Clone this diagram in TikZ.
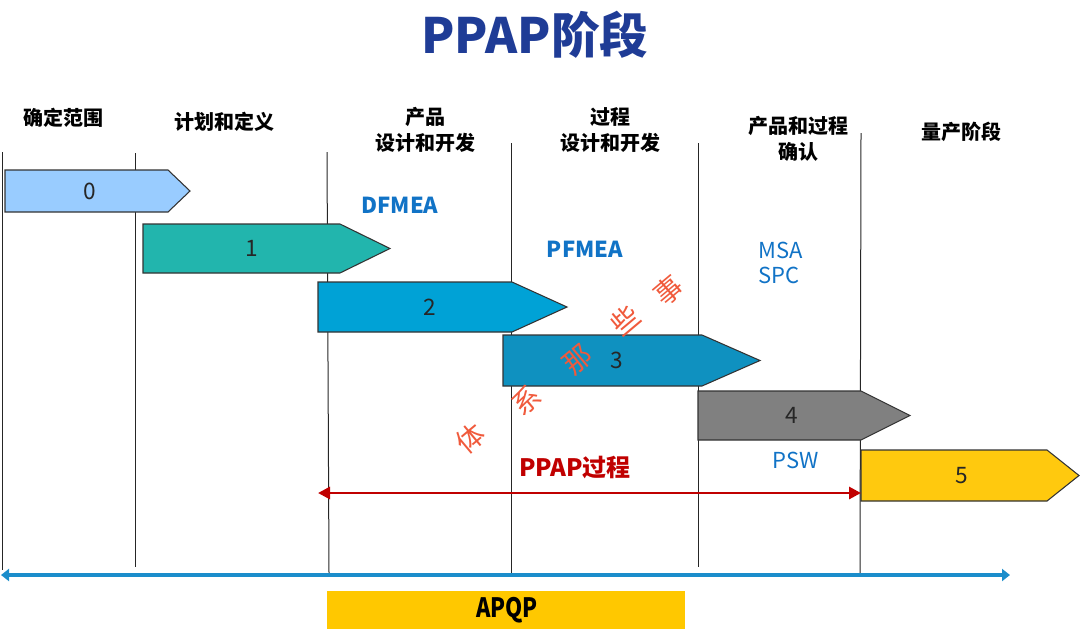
\documentclass[tikz,border=0pt]{standalone}
\usepackage{fontspec}
\setmainfont{Noto Sans CJK SC}
\usetikzlibrary{arrows.meta}
\definecolor{titleblue}{HTML}{1F3C96}
\definecolor{c0}{HTML}{99CCFF}
\definecolor{c1}{HTML}{22B5AD}
\definecolor{c2}{HTML}{00A2D6}
\definecolor{c3}{HTML}{0F91C0}
\definecolor{c4}{HTML}{808080}
\definecolor{c5}{HTML}{FFC90E}
\definecolor{txtblue}{HTML}{1173C6}
\definecolor{pred}{HTML}{C00000}
\definecolor{axisblue}{HTML}{1B8DCB}
\definecolor{apqp}{HTML}{FFC800}
\definecolor{wm}{HTML}{F05A3C}
% name, xleft, xbody, xtip, ytop, ybot, colour, label, label x
\newcommand{\phasebox}[9]{%
  \draw[phaseedge, fill=#7] (#2,#5) -- (#3,#5) -- (#4,{(#5+#6)/2}) -- (#3,#6) -- (#2,#6) -- cycle;
  \node[numlabel] (#1) at (#9,{(#5+#6)/2}) {#8};}
\begin{document}
\begin{tikzpicture}[x=0.75pt,y=-0.75pt,
  phaseedge/.style={draw=black!80, line width=0.8pt},
  numlabel/.style={font=\fontsize{17}{20}\selectfont, text=black!85},
  header/.style={font=\fontsize{15}{19}\selectfont\bfseries, align=center, text=black},
  divider/.style={draw=black!85, line width=0.75pt},
  tool/.style={font=\fontsize{16.5}{19}\selectfont, text=txtblue},
  wmark/.style={font=\fontsize{21}{24}\selectfont, text=wm, rotate=40}]
\useasboundingbox (0,0) rectangle (1080,629);
% title
\node[font=\fontsize{36.5}{42}\selectfont\bfseries, text=titleblue] (title) at (535,35) {PPAP阶段};
% dividers
\draw[divider] (2,152) -- (2,570);
\draw[divider] (135,153) -- (135,567);
\draw[divider] (327,152) -- (329,573);
\draw[divider] (511,143) -- (511,573);
\draw[divider] (698,143) -- (698,567);
\draw[divider] (861,133) -- (860,573);
% headers
\node[header] (h0) at (63,118) {确定范围};
\node[header] (h1) at (224,122) {计划和定义};
\node[header] (h2) at (425,130) {产品\\设计和开发};
\node[header] (h3) at (610,130) {过程\\设计和开发};
\node[header] (h4) at (798,139) {产品和过程\\确认};
\node[header] (h5) at (961,132) {量产阶段};
% phases
\phasebox{p0}{5}{168}{190}{170}{212}{c0}{0}{90}
\phasebox{p1}{143}{340}{390}{224}{273}{c1}{1}{252}
\phasebox{p2}{318}{512}{567}{282}{332}{c2}{2}{430}
\phasebox{p3}{503}{702}{760}{335}{386}{c3}{3}{617}
\phasebox{p4}{698}{861}{910}{391}{440}{c4}{4}{792}
\phasebox{p5}{861}{1047}{1079}{450}{501}{c5}{5}{962}
% tools
\node[tool, font=\fontsize{16.5}{19}\selectfont\bfseries] (dfmea) at (400,205) {DFMEA};
\node[tool, font=\fontsize{16.5}{19}\selectfont\bfseries] (pfmea) at (585,249) {PFMEA};
\node[tool, anchor=west] (msa) at (754,250) {MSA};
\node[tool, anchor=west] (spc) at (754,275) {SPC};
\node[tool] (psw) at (796,460) {PSW};
% PPAP process
\node[font=\fontsize{18}{20}\selectfont\bfseries, text=pred] (ppap) at (575,468) {PPAP过程};
\coordinate (ppapL) at (318,493);
\coordinate (ppapR) at (861,493);
\draw[pred, line width=2.2pt, {Triangle[length=9pt,width=9pt]}-{Triangle[length=9pt,width=9pt]}] (ppapL) -- (ppapR);
% APQP axis
\coordinate (axL) at (1,575);
\coordinate (axR) at (1010,575);
\draw[axisblue, line width=3pt, {Triangle[length=6pt,width=9pt]}-{Triangle[length=6pt,width=9pt]}] (axL) -- (axR);
\fill[apqp] (327,591) rectangle (685,629);
\node[font=\fontsize{20}{22}\selectfont\bfseries, xscale=0.82] (apqp) at (507,610) {APQP};
% watermark
\node[wmark] (w1) at (470,438) {体};
\node[wmark] (w2) at (526,400) {系};
\node[wmark] (w3) at (578,360) {那};
\node[wmark] (w4) at (625,320) {些};
\node[wmark] (w5) at (668,290) {事};
\end{tikzpicture}
\end{document}
